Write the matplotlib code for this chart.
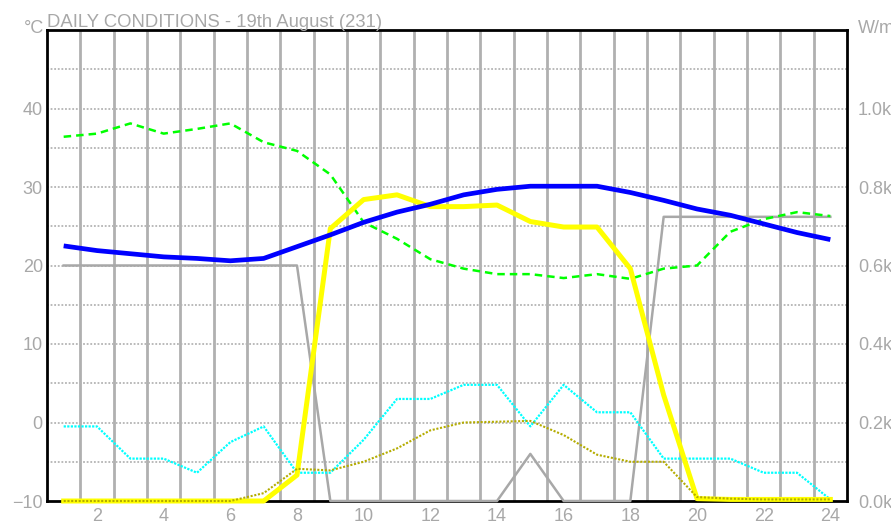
import matplotlib.pyplot as plt
import numpy as np
from matplotlib.ticker import FuncFormatter

plt.rcParams['font.family'] = ['Liberation Sans', 'DejaVu Sans']

# Hours of the day
hours = np.arange(1, 25)

# Series (left axis, degC scale)
temperature = [22.5, 21.9, 21.5, 21.1, 20.9, 20.6, 20.9, 22.4, 23.9, 25.5, 26.8, 27.8,
               29.0, 29.7, 30.1, 30.1, 30.1, 29.3, 28.3, 27.2, 26.4, 25.3, 24.2, 23.3]
green_dash = [36.4, 36.8, 38.1, 36.8, 37.4, 38.1, 35.7, 34.6, 31.6, 25.5, 23.4, 20.8,
              19.6, 18.9, 18.9, 18.4, 18.9, 18.3, 19.6, 20.0, 24.3, 25.9, 26.8, 26.3]
yellow = [-10, -10, -10, -10, -10, -10, -10, -6.7, 24.7, 28.4, 29.0, 27.5,
          27.5, 27.7, 25.6, 24.9, 24.9, 19.6, 3.5, -9.7, -9.8, -9.8, -9.8, -9.8]
cyan = [-0.5, -0.5, -4.6, -4.6, -6.4, -2.5, -0.5, -6.4, -6.4, -2.2, 3.0, 3.0,
        4.8, 4.8, -0.5, 4.8, 1.3, 1.3, -4.6, -4.6, -4.6, -6.4, -6.4, -9.8]
olive = [-10, -10, -10, -10, -10, -10, -9.0, -5.9, -6.1, -5.0, -3.3, -1.0,
         0.0, 0.1, 0.2, -1.6, -4.1, -5.0, -5.0, -9.5, -9.7, -9.8, -9.8, -9.8]
gray = [20, 20, 20, 20, 20, 20, 20, 20, -10, -10, -10, -10,
        -10, -10, -4, -10, -10, -10, 26.2, 26.2, 26.2, 26.2, 26.2, 26.2]

left_ticks = [-10, 0, 10, 20, 30, 40]
right_ticks = [0, 200, 400, 600, 800, 1000]
x_ticks = list(range(2, 25, 2))

txt = '#a8a8a8'
grid_c = '#b0b0b0'

fig = plt.figure(figsize=(8.91, 5.28), dpi=100)
ax = fig.add_axes([47 / 891, 1 - 501 / 528, 800 / 891, 471 / 528])

ax.set_xlim(0.5, 24.5)
ax.set_ylim(-10, 50)

# grid: solid vertical lines at half hours, dotted horizontal every 5
for xv in np.arange(1.5, 24, 1):
    ax.axvline(xv, color=grid_c, lw=2, zorder=1)
for yv in np.arange(-5, 50, 5):
    ax.axhline(yv, color='#b4b4b4', lw=1.3, ls=(0, (1, 1)), zorder=1)

ax.plot(hours, gray, color='#a8a8a8', lw=1.8, zorder=3, clip_on=False)
ax.plot(hours, cyan, color='#00ffff', lw=1.6, ls=(0, (1, 0.6)), zorder=4, clip_on=False)
ax.plot(hours, yellow, color='#ffff00', lw=3.6, zorder=5, clip_on=False)
ax.plot(hours, olive, color='#b4ac00', lw=1.5, ls=(0, (1, 0.8)), zorder=6, clip_on=False)
ax.plot(hours, green_dash, color='#00ff00', lw=1.8, ls=(0, (3, 2)), zorder=4)
ax.plot(hours, temperature, color='#0000ff', lw=3.4, zorder=7, solid_capstyle='butt')

for s in ax.spines.values():
    s.set_linewidth(2)
    s.set_color('black')
    s.set_zorder(2)

ax.set_xticks(x_ticks)
ax.set_yticks(left_ticks)
ax.tick_params(length=0, labelsize=13, labelcolor=txt)
ax.tick_params(axis='x', pad=5)
ax.tick_params(axis='y', pad=3)

ax2 = ax.twinx()
ax2.set_ylim(0, 1200)
ax2.set_yticks(right_ticks)
ax2.yaxis.set_major_formatter(FuncFormatter(lambda v, p: f'{v / 1000:.1f}k'))
ax2.tick_params(length=0, labelsize=13, labelcolor=txt, pad=8)
for s in ax2.spines.values():
    s.set_visible(False)

fig.text(47 / 891, 1 - 27 / 528, 'DAILY CONDITIONS - 19th August (231)', color=txt,
         fontsize=13.3, ha='left', va='baseline')
fig.text(44 / 891, 1 - 33 / 528, '°C', color=txt, fontsize=13, ha='right', va='baseline')
fig.text(858 / 891, 1 - 33 / 528, 'W/m²', color=txt, fontsize=13, ha='left', va='baseline')

fig.savefig('out.png', dpi=100)
